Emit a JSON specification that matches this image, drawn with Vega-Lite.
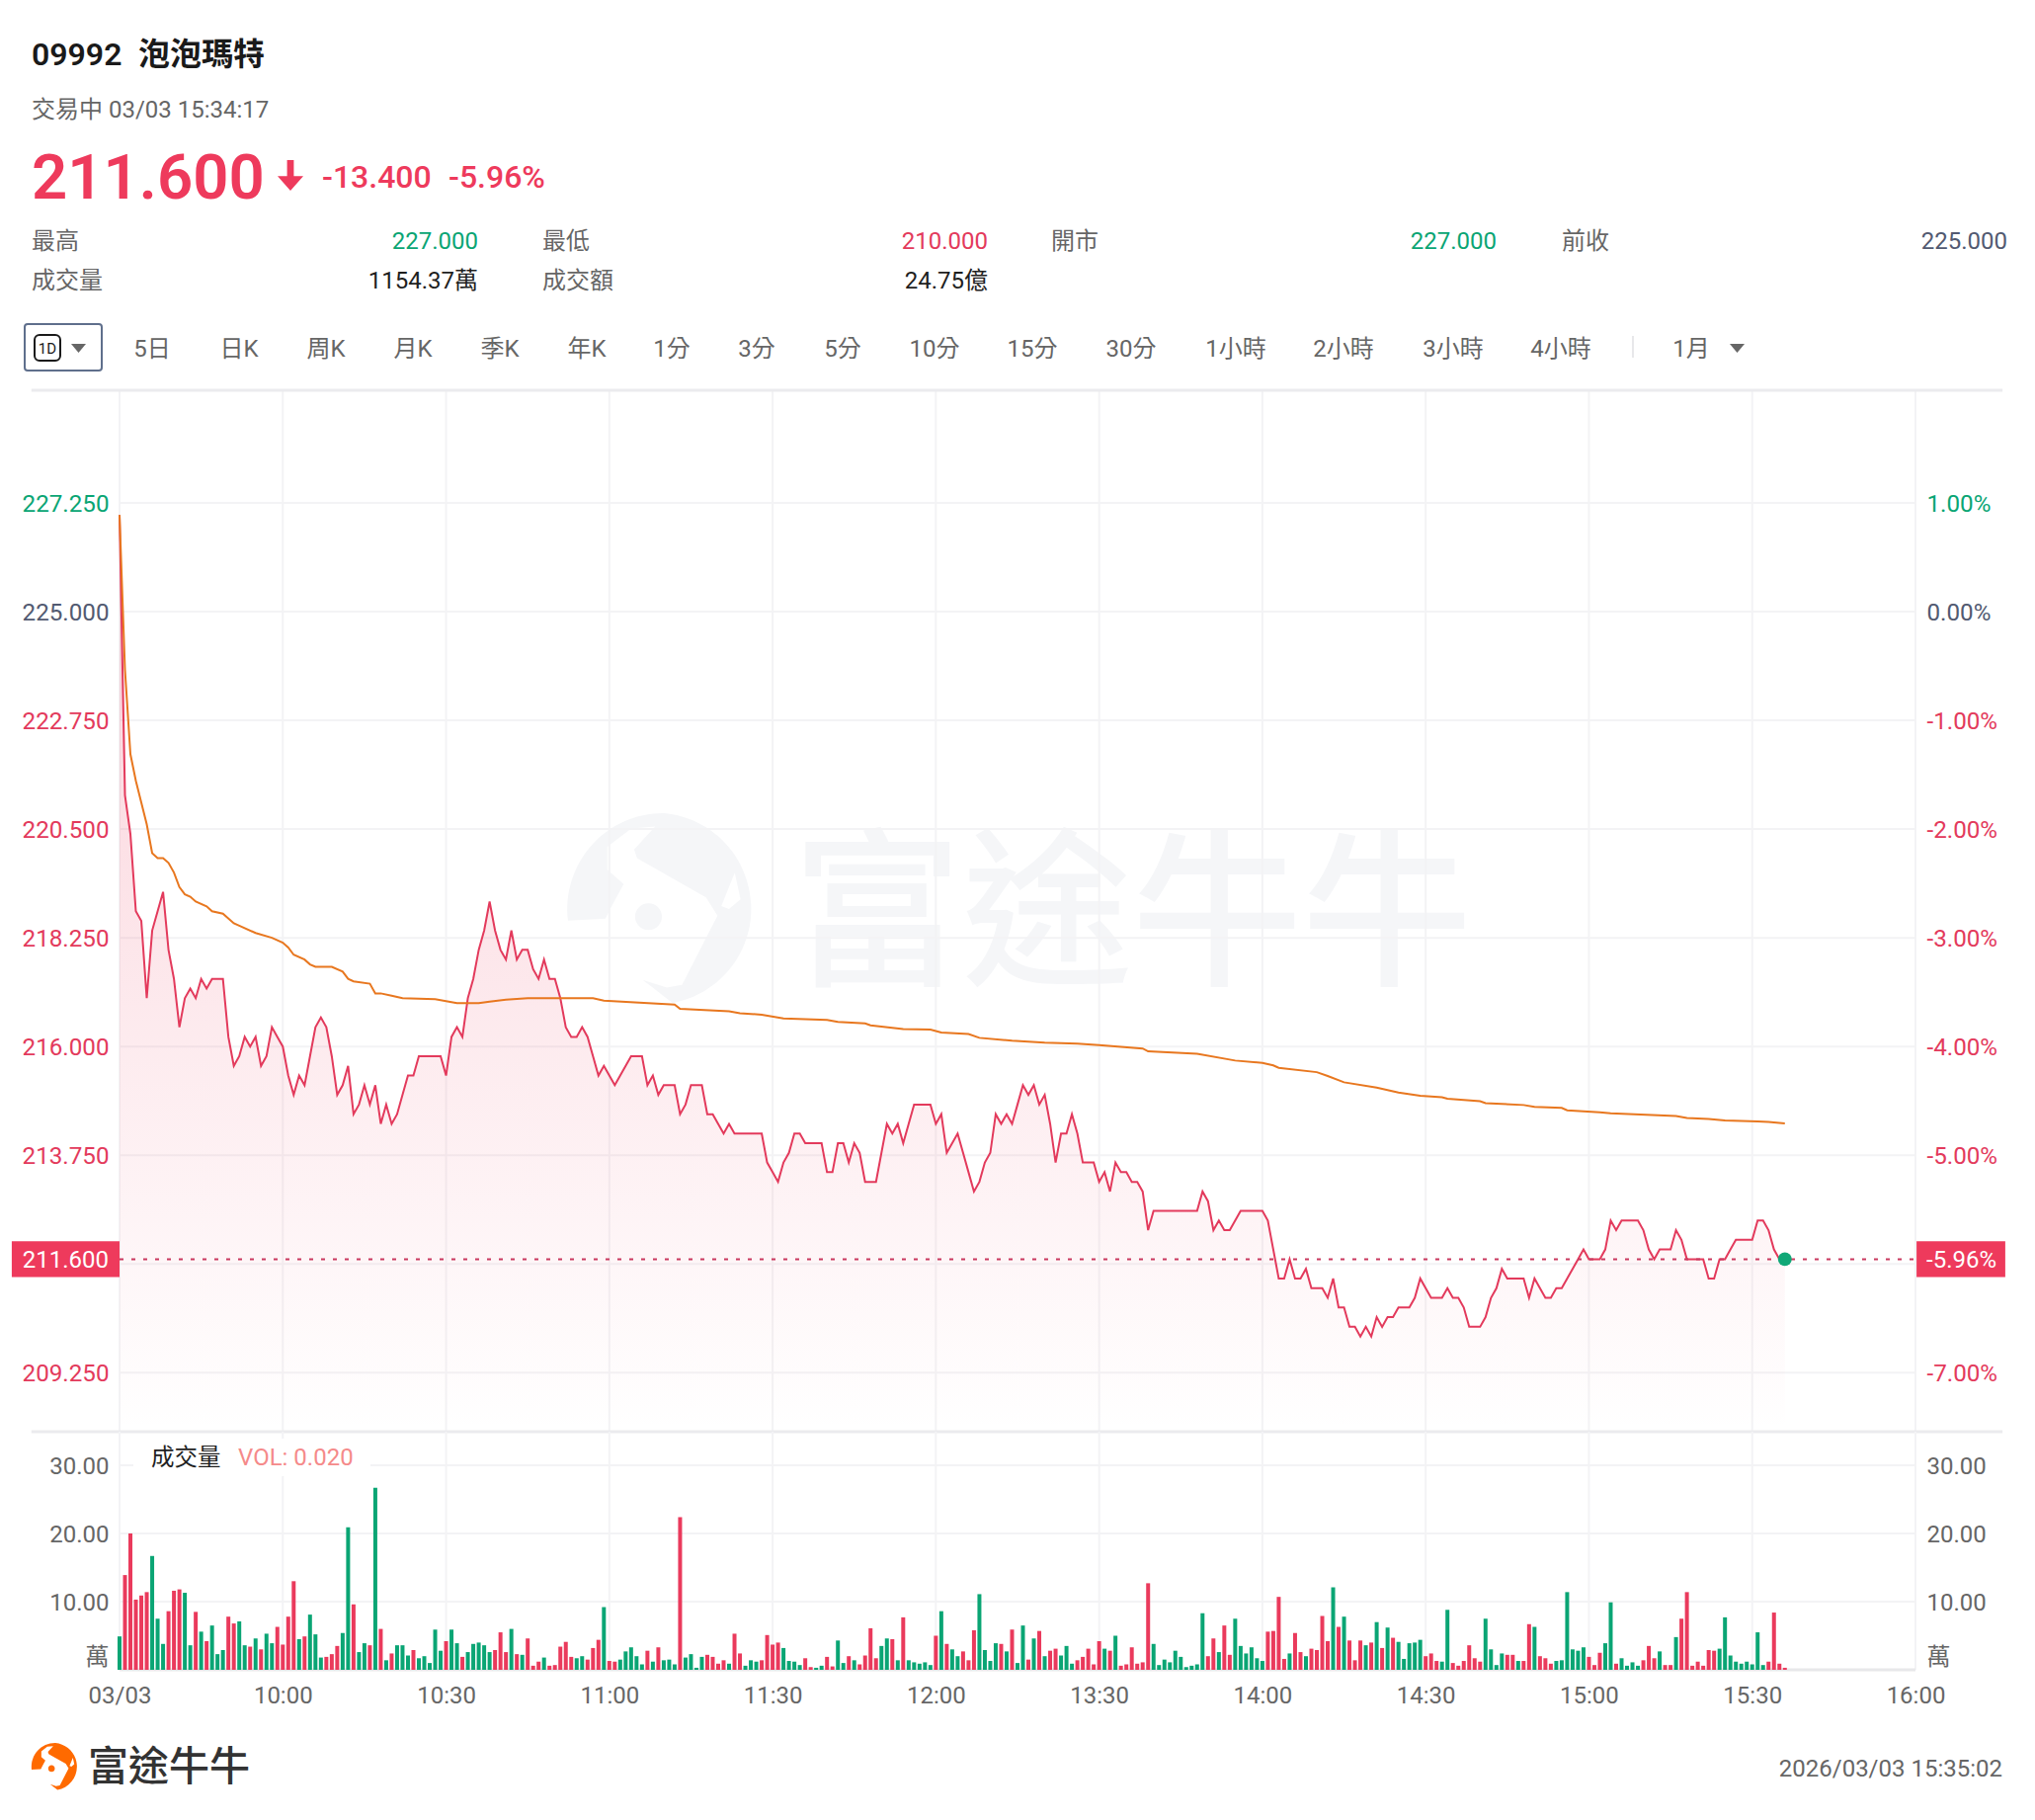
{"$schema":"https://vega.github.io/schema/vega-lite/v6.json","width":2060,"height":1842,"padding":0,"autosize":{"type":"fit","contains":"padding"},"background":"#ffffff",
"datasets":{
"m":[{"i":0,"p":227,"v":4.9,"d":"g"},{"i":1,"p":221.2,"v":13.9,"d":"r"},{"i":2,"p":220.4,"v":20,"d":"r"},{"i":3,"p":218.8,"v":10.3,"d":"r"},{"i":4,"p":218.6,"v":10.9,"d":"r"},{"i":5,"p":217,"v":11.4,"d":"r"},{"i":6,"p":218.4,"v":16.7,"d":"g"},{"i":7,"p":218.8,"v":7.5,"d":"g"},{"i":8,"p":219.2,"v":3.8,"d":"g"},{"i":9,"p":218,"v":8.6,"d":"r"},
{"i":10,"p":217.4,"v":11.6,"d":"r"},{"i":11,"p":216.4,"v":11.8,"d":"r"},{"i":12,"p":217,"v":11.3,"d":"g"},{"i":13,"p":217.2,"v":3.6,"d":"g"},{"i":14,"p":217,"v":8.5,"d":"r"},{"i":15,"p":217.4,"v":5.6,"d":"g"},{"i":16,"p":217.2,"v":4.2,"d":"r"},{"i":17,"p":217.4,"v":6.5,"d":"g"},{"i":18,"p":217.4,"v":2.3,"d":"g"},{"i":19,"p":217.4,"v":2.9,"d":"g"},
{"i":20,"p":216.2,"v":7.8,"d":"r"},{"i":21,"p":215.6,"v":6.8,"d":"r"},{"i":22,"p":215.8,"v":7.1,"d":"g"},{"i":23,"p":216.2,"v":3.6,"d":"g"},{"i":24,"p":216,"v":3.4,"d":"r"},{"i":25,"p":216.2,"v":4.6,"d":"g"},{"i":26,"p":215.6,"v":3,"d":"r"},{"i":27,"p":215.8,"v":5.3,"d":"g"},{"i":28,"p":216.4,"v":3.9,"d":"g"},{"i":29,"p":216.2,"v":6.3,"d":"r"},
{"i":30,"p":216,"v":3.7,"d":"r"},{"i":31,"p":215.4,"v":7.8,"d":"r"},{"i":32,"p":215,"v":13,"d":"r"},{"i":33,"p":215.4,"v":4.5,"d":"g"},{"i":34,"p":215.2,"v":4.9,"d":"r"},{"i":35,"p":215.8,"v":8.1,"d":"g"},{"i":36,"p":216.4,"v":5.2,"d":"g"},{"i":37,"p":216.6,"v":1.8,"d":"g"},{"i":38,"p":216.4,"v":1.9,"d":"r"},{"i":39,"p":215.8,"v":2.3,"d":"r"},
{"i":40,"p":215,"v":3.5,"d":"r"},{"i":41,"p":215.2,"v":5.4,"d":"g"},{"i":42,"p":215.6,"v":20.9,"d":"g"},{"i":43,"p":214.6,"v":9.6,"d":"r"},{"i":44,"p":214.8,"v":2.6,"d":"g"},{"i":45,"p":215.2,"v":3.9,"d":"g"},{"i":46,"p":214.8,"v":3.6,"d":"r"},{"i":47,"p":215.2,"v":26.7,"d":"g"},{"i":48,"p":214.4,"v":6,"d":"r"},{"i":49,"p":214.8,"v":1.4,"d":"g"},
{"i":50,"p":214.4,"v":2.4,"d":"r"},{"i":51,"p":214.6,"v":3.6,"d":"g"},{"i":52,"p":215,"v":3.6,"d":"g"},{"i":53,"p":215.4,"v":2.1,"d":"g"},{"i":54,"p":215.4,"v":2.9,"d":"r"},{"i":55,"p":215.8,"v":1.7,"d":"g"},{"i":56,"p":215.8,"v":2,"d":"g"},{"i":57,"p":215.8,"v":1,"d":"g"},{"i":58,"p":215.8,"v":5.9,"d":"g"},{"i":59,"p":215.8,"v":2.8,"d":"g"},
{"i":60,"p":215.4,"v":4.2,"d":"r"},{"i":61,"p":216.2,"v":5.9,"d":"g"},{"i":62,"p":216.4,"v":3.9,"d":"g"},{"i":63,"p":216.2,"v":1.9,"d":"r"},{"i":64,"p":217,"v":2.6,"d":"g"},{"i":65,"p":217.4,"v":3.8,"d":"g"},{"i":66,"p":218,"v":4,"d":"g"},{"i":67,"p":218.4,"v":3.6,"d":"g"},{"i":68,"p":219,"v":2.6,"d":"g"},{"i":69,"p":218.4,"v":2.9,"d":"r"},
{"i":70,"p":218,"v":5.5,"d":"r"},{"i":71,"p":217.8,"v":2.6,"d":"r"},{"i":72,"p":218.4,"v":6,"d":"g"},{"i":73,"p":217.8,"v":2.3,"d":"r"},{"i":74,"p":218,"v":2.2,"d":"g"},{"i":75,"p":218,"v":4.6,"d":"r"},{"i":76,"p":217.6,"v":0.6,"d":"r"},{"i":77,"p":217.4,"v":1.2,"d":"r"},{"i":78,"p":217.8,"v":1.8,"d":"g"},{"i":79,"p":217.4,"v":0.6,"d":"r"},
{"i":80,"p":217.4,"v":0.7,"d":"r"},{"i":81,"p":217,"v":3.4,"d":"r"},{"i":82,"p":216.4,"v":4.1,"d":"r"},{"i":83,"p":216.2,"v":1.9,"d":"r"},{"i":84,"p":216.2,"v":1.7,"d":"g"},{"i":85,"p":216.4,"v":2,"d":"g"},{"i":86,"p":216.2,"v":1.5,"d":"r"},{"i":87,"p":215.8,"v":3.2,"d":"r"},{"i":88,"p":215.4,"v":4.4,"d":"r"},{"i":89,"p":215.6,"v":9.2,"d":"g"},
{"i":90,"p":215.4,"v":1.3,"d":"r"},{"i":91,"p":215.2,"v":1.2,"d":"r"},{"i":92,"p":215.4,"v":1.5,"d":"g"},{"i":93,"p":215.6,"v":2.7,"d":"g"},{"i":94,"p":215.8,"v":3.3,"d":"g"},{"i":95,"p":215.8,"v":2,"d":"g"},{"i":96,"p":215.8,"v":0.8,"d":"g"},{"i":97,"p":215.2,"v":2.8,"d":"r"},{"i":98,"p":215.4,"v":1.2,"d":"g"},{"i":99,"p":215,"v":3.3,"d":"r"},
{"i":100,"p":215.2,"v":1.4,"d":"g"},{"i":101,"p":215.2,"v":1.5,"d":"g"},{"i":102,"p":215.2,"v":0.8,"d":"g"},{"i":103,"p":214.6,"v":22.4,"d":"r"},{"i":104,"p":214.8,"v":1.8,"d":"g"},{"i":105,"p":215.2,"v":2.3,"d":"g"},{"i":106,"p":215.2,"v":0.3,"d":"g"},{"i":107,"p":215.2,"v":1.9,"d":"g"},{"i":108,"p":214.6,"v":2.2,"d":"r"},{"i":109,"p":214.6,"v":1.9,"d":"r"},
{"i":110,"p":214.4,"v":0.9,"d":"r"},{"i":111,"p":214.2,"v":1.4,"d":"r"},{"i":112,"p":214.4,"v":0.9,"d":"g"},{"i":113,"p":214.2,"v":5.3,"d":"r"},{"i":114,"p":214.2,"v":2.4,"d":"r"},{"i":115,"p":214.2,"v":0.6,"d":"g"},{"i":116,"p":214.2,"v":1.4,"d":"g"},{"i":117,"p":214.2,"v":1.2,"d":"g"},{"i":118,"p":214.2,"v":1.4,"d":"r"},{"i":119,"p":213.6,"v":5.1,"d":"r"},
{"i":120,"p":213.4,"v":3.7,"d":"r"},{"i":121,"p":213.2,"v":4,"d":"r"},{"i":122,"p":213.6,"v":3.2,"d":"g"},{"i":123,"p":213.8,"v":1.3,"d":"g"},{"i":124,"p":214.2,"v":1.2,"d":"g"},{"i":125,"p":214.2,"v":0.7,"d":"g"},{"i":126,"p":214,"v":1.7,"d":"r"},{"i":127,"p":214,"v":0.4,"d":"r"},{"i":128,"p":214,"v":0.3,"d":"g"},{"i":129,"p":214,"v":0.6,"d":"g"},
{"i":130,"p":213.4,"v":1.9,"d":"r"},{"i":131,"p":213.4,"v":0.5,"d":"r"},{"i":132,"p":214,"v":4.3,"d":"g"},{"i":133,"p":214,"v":1,"d":"g"},{"i":134,"p":213.6,"v":2,"d":"r"},{"i":135,"p":214,"v":1.4,"d":"g"},{"i":136,"p":213.8,"v":0.8,"d":"r"},{"i":137,"p":213.2,"v":2.1,"d":"r"},{"i":138,"p":213.2,"v":6.1,"d":"r"},{"i":139,"p":213.2,"v":1.7,"d":"r"},
{"i":140,"p":213.8,"v":3.5,"d":"g"},{"i":141,"p":214.4,"v":4.6,"d":"g"},{"i":142,"p":214.2,"v":4.5,"d":"r"},{"i":143,"p":214.4,"v":1.4,"d":"g"},{"i":144,"p":214,"v":7.7,"d":"r"},{"i":145,"p":214.4,"v":1.4,"d":"g"},{"i":146,"p":214.8,"v":1.1,"d":"g"},{"i":147,"p":214.8,"v":0.9,"d":"g"},{"i":148,"p":214.8,"v":1.1,"d":"g"},{"i":149,"p":214.8,"v":0.7,"d":"g"},
{"i":150,"p":214.4,"v":5,"d":"r"},{"i":151,"p":214.6,"v":8.6,"d":"g"},{"i":152,"p":213.8,"v":3.8,"d":"r"},{"i":153,"p":214,"v":3,"d":"g"},{"i":154,"p":214.2,"v":2,"d":"g"},{"i":155,"p":213.8,"v":2.7,"d":"r"},{"i":156,"p":213.4,"v":1.4,"d":"r"},{"i":157,"p":213,"v":5.8,"d":"r"},{"i":158,"p":213.2,"v":11.1,"d":"g"},{"i":159,"p":213.6,"v":2.9,"d":"g"},
{"i":160,"p":213.8,"v":1.3,"d":"g"},{"i":161,"p":214.6,"v":3.9,"d":"g"},{"i":162,"p":214.4,"v":3.8,"d":"r"},{"i":163,"p":214.6,"v":2.7,"d":"g"},{"i":164,"p":214.4,"v":5.9,"d":"r"},{"i":165,"p":214.8,"v":1,"d":"g"},{"i":166,"p":215.2,"v":6.5,"d":"g"},{"i":167,"p":215,"v":1.5,"d":"r"},{"i":168,"p":215.2,"v":4.6,"d":"g"},{"i":169,"p":214.8,"v":5.7,"d":"r"},
{"i":170,"p":215,"v":2,"d":"g"},{"i":171,"p":214.4,"v":2.8,"d":"r"},{"i":172,"p":213.6,"v":3.1,"d":"r"},{"i":173,"p":214.2,"v":2.1,"d":"g"},{"i":174,"p":214.2,"v":3.5,"d":"g"},{"i":175,"p":214.6,"v":0.9,"d":"g"},{"i":176,"p":214.2,"v":1.4,"d":"r"},{"i":177,"p":213.6,"v":1.9,"d":"r"},{"i":178,"p":213.6,"v":3.1,"d":"r"},{"i":179,"p":213.6,"v":0.8,"d":"r"},
{"i":180,"p":213.2,"v":4.2,"d":"r"},{"i":181,"p":213.4,"v":3.1,"d":"g"},{"i":182,"p":213,"v":2.8,"d":"r"},{"i":183,"p":213.6,"v":5,"d":"g"},{"i":184,"p":213.4,"v":0.6,"d":"r"},{"i":185,"p":213.4,"v":0.8,"d":"r"},{"i":186,"p":213.2,"v":3.3,"d":"r"},{"i":187,"p":213.2,"v":0.9,"d":"r"},{"i":188,"p":213,"v":1.1,"d":"r"},{"i":189,"p":212.2,"v":12.7,"d":"r"},
{"i":190,"p":212.6,"v":3.8,"d":"g"},{"i":191,"p":212.6,"v":0.7,"d":"g"},{"i":192,"p":212.6,"v":1.5,"d":"g"},{"i":193,"p":212.6,"v":1.1,"d":"g"},{"i":194,"p":212.6,"v":2.8,"d":"g"},{"i":195,"p":212.6,"v":1.9,"d":"g"},{"i":196,"p":212.6,"v":0.4,"d":"g"},{"i":197,"p":212.6,"v":0.6,"d":"g"},{"i":198,"p":212.6,"v":0.8,"d":"g"},{"i":199,"p":213,"v":8.3,"d":"g"},
{"i":200,"p":212.8,"v":2,"d":"r"},{"i":201,"p":212.2,"v":4.6,"d":"r"},{"i":202,"p":212.4,"v":2.6,"d":"g"},{"i":203,"p":212.2,"v":6.5,"d":"r"},{"i":204,"p":212.2,"v":2.2,"d":"r"},{"i":205,"p":212.4,"v":7.5,"d":"g"},{"i":206,"p":212.6,"v":3.5,"d":"g"},{"i":207,"p":212.6,"v":2.4,"d":"g"},{"i":208,"p":212.6,"v":3.3,"d":"g"},{"i":209,"p":212.6,"v":1.7,"d":"g"},
{"i":210,"p":212.6,"v":1.3,"d":"g"},{"i":211,"p":212.4,"v":5.6,"d":"r"},{"i":212,"p":211.8,"v":5.7,"d":"r"},{"i":213,"p":211.2,"v":10.7,"d":"r"},{"i":214,"p":211.2,"v":1.6,"d":"r"},{"i":215,"p":211.6,"v":2.4,"d":"g"},{"i":216,"p":211.2,"v":5.4,"d":"r"},{"i":217,"p":211.2,"v":2.6,"d":"r"},{"i":218,"p":211.4,"v":2,"d":"g"},{"i":219,"p":211,"v":3.1,"d":"r"},
{"i":220,"p":211,"v":2.9,"d":"r"},{"i":221,"p":211,"v":7.9,"d":"r"},{"i":222,"p":210.8,"v":4.2,"d":"r"},{"i":223,"p":211.2,"v":12.1,"d":"g"},{"i":224,"p":210.6,"v":6.3,"d":"r"},{"i":225,"p":210.6,"v":7.8,"d":"g"},{"i":226,"p":210.2,"v":4.3,"d":"r"},{"i":227,"p":210.2,"v":1.4,"d":"r"},{"i":228,"p":210,"v":4.3,"d":"r"},{"i":229,"p":210.2,"v":3.6,"d":"g"},
{"i":230,"p":210,"v":4,"d":"r"},{"i":231,"p":210.4,"v":7,"d":"g"},{"i":232,"p":210.2,"v":3.2,"d":"r"},{"i":233,"p":210.4,"v":6.2,"d":"g"},{"i":234,"p":210.4,"v":4.7,"d":"r"},{"i":235,"p":210.6,"v":4.1,"d":"g"},{"i":236,"p":210.6,"v":1.6,"d":"g"},{"i":237,"p":210.6,"v":3.9,"d":"g"},{"i":238,"p":210.8,"v":4,"d":"g"},{"i":239,"p":211.2,"v":4.4,"d":"g"},
{"i":240,"p":211,"v":2,"d":"r"},{"i":241,"p":210.8,"v":2.4,"d":"r"},{"i":242,"p":210.8,"v":1.3,"d":"r"},{"i":243,"p":210.8,"v":1.2,"d":"g"},{"i":244,"p":211,"v":8.8,"d":"g"},{"i":245,"p":210.8,"v":1,"d":"r"},{"i":246,"p":210.8,"v":0.6,"d":"r"},{"i":247,"p":210.6,"v":1.3,"d":"r"},{"i":248,"p":210.2,"v":3.6,"d":"r"},{"i":249,"p":210.2,"v":1.7,"d":"r"},
{"i":250,"p":210.2,"v":1.2,"d":"r"},{"i":251,"p":210.4,"v":7.5,"d":"g"},{"i":252,"p":210.8,"v":3,"d":"g"},{"i":253,"p":211,"v":0.7,"d":"g"},{"i":254,"p":211.4,"v":2.4,"d":"g"},{"i":255,"p":211.2,"v":2.2,"d":"r"},{"i":256,"p":211.2,"v":2.2,"d":"r"},{"i":257,"p":211.2,"v":1.3,"d":"g"},{"i":258,"p":211.2,"v":1.3,"d":"r"},{"i":259,"p":210.8,"v":6.7,"d":"r"},
{"i":260,"p":211.2,"v":6.3,"d":"g"},{"i":261,"p":211,"v":2,"d":"r"},{"i":262,"p":210.8,"v":1.7,"d":"r"},{"i":263,"p":210.8,"v":0.9,"d":"r"},{"i":264,"p":211,"v":1.3,"d":"g"},{"i":265,"p":211,"v":1.4,"d":"g"},{"i":266,"p":211.2,"v":11.4,"d":"g"},{"i":267,"p":211.4,"v":3,"d":"g"},{"i":268,"p":211.6,"v":2.8,"d":"g"},{"i":269,"p":211.8,"v":3.3,"d":"g"},
{"i":270,"p":211.6,"v":1.9,"d":"r"},{"i":271,"p":211.6,"v":0.7,"d":"r"},{"i":272,"p":211.6,"v":2.5,"d":"r"},{"i":273,"p":211.8,"v":3.9,"d":"g"},{"i":274,"p":212.4,"v":9.9,"d":"g"},{"i":275,"p":212.2,"v":0.9,"d":"r"},{"i":276,"p":212.4,"v":1.7,"d":"g"},{"i":277,"p":212.4,"v":0.6,"d":"g"},{"i":278,"p":212.4,"v":1.1,"d":"g"},{"i":279,"p":212.4,"v":0.6,"d":"g"},
{"i":280,"p":212.2,"v":1.4,"d":"r"},{"i":281,"p":211.8,"v":3.5,"d":"r"},{"i":282,"p":211.6,"v":1.7,"d":"r"},{"i":283,"p":211.8,"v":2.7,"d":"g"},{"i":284,"p":211.8,"v":0.7,"d":"r"},{"i":285,"p":211.8,"v":0.7,"d":"r"},{"i":286,"p":212.2,"v":4.8,"d":"g"},{"i":287,"p":212,"v":7.5,"d":"r"},{"i":288,"p":211.6,"v":11.4,"d":"r"},{"i":289,"p":211.6,"v":0.6,"d":"r"},
{"i":290,"p":211.6,"v":1.2,"d":"r"},{"i":291,"p":211.6,"v":0.6,"d":"r"},{"i":292,"p":211.2,"v":2.9,"d":"r"},{"i":293,"p":211.2,"v":2.8,"d":"r"},{"i":294,"p":211.6,"v":3.1,"d":"g"},{"i":295,"p":211.6,"v":7.7,"d":"g"},{"i":296,"p":211.8,"v":2.1,"d":"g"},{"i":297,"p":212,"v":1.2,"d":"g"},{"i":298,"p":212,"v":0.9,"d":"g"},{"i":299,"p":212,"v":1.2,"d":"g"},
{"i":300,"p":212,"v":0.8,"d":"g"},{"i":301,"p":212.4,"v":5.5,"d":"g"},{"i":302,"p":212.4,"v":0.7,"d":"g"},{"i":303,"p":212.2,"v":1.2,"d":"r"},{"i":304,"p":211.8,"v":8.4,"d":"r"},{"i":305,"p":211.6,"v":0.9,"d":"r"},{"i":306,"p":211.6,"v":0.3,"d":"r"}],
"avg":[{"i":0,"a":227},{"i":1,"a":223.8},{"i":2,"a":222.05},{"i":3,"a":221.5},{"i":4,"a":221.05},{"i":5,"a":220.6},{"i":6,"a":220},{"i":7,"a":219.9},{"i":8,"a":219.9},{"i":9,"a":219.8},{"i":10,"a":219.6},{"i":11,"a":219.3},{"i":12,"a":219.15},{"i":13,"a":219.1},{"i":14,"a":219},{"i":16,"a":218.9},{"i":17,"a":218.8},{"i":19,"a":218.75},{"i":21,"a":218.55},{"i":22,"a":218.5},{"i":25,"a":218.35},{"i":28,"a":218.25},{"i":30,"a":218.15},{"i":31,"a":218.05},{"i":32,"a":217.9},{"i":34,"a":217.8},{"i":35,"a":217.7},{"i":36,"a":217.65},{"i":39,"a":217.65},{"i":41,"a":217.55},{"i":42,"a":217.4},{"i":43,"a":217.35},{"i":46,"a":217.3},{"i":47,"a":217.1},{"i":48,"a":217.1},{"i":50,"a":217.05},{"i":52,"a":217},{"i":58,"a":216.98},{"i":62,"a":216.9},{"i":66,"a":216.9},{"i":68,"a":216.93},{"i":71,"a":216.97},{"i":75,"a":217},{"i":87,"a":217},{"i":89,"a":216.95},{"i":102,"a":216.87},{"i":103,"a":216.78},{"i":112,"a":216.73},{"i":114,"a":216.69},{"i":118,"a":216.66},{"i":122,"a":216.58},{"i":130,"a":216.55},{"i":132,"a":216.51},{"i":137,"a":216.48},{"i":138,"a":216.44},{"i":144,"a":216.36},{"i":149,"a":216.35},{"i":151,"a":216.29},{"i":156,"a":216.26},{"i":158,"a":216.18},{"i":164,"a":216.12},{"i":170,"a":216.08},{"i":176,"a":216.06},{"i":180,"a":216.03},{"i":188,"a":215.96},{"i":189,"a":215.9},{"i":198,"a":215.85},{"i":205,"a":215.71},{"i":210,"a":215.66},{"i":212,"a":215.61},{"i":213,"a":215.56},{"i":220,"a":215.47},{"i":222,"a":215.39},{"i":225,"a":215.26},{"i":231,"a":215.15},{"i":235,"a":215.05},{"i":239,"a":214.98},{"i":243,"a":214.95},{"i":244,"a":214.92},{"i":250,"a":214.87},{"i":251,"a":214.83},{"i":258,"a":214.79},{"i":260,"a":214.75},{"i":265,"a":214.73},{"i":266,"a":214.68},{"i":272,"a":214.64},{"i":274,"a":214.62},{"i":286,"a":214.56},{"i":288,"a":214.52},{"i":292,"a":214.5},{"i":295,"a":214.47},{"i":301,"a":214.45},{"i":303,"a":214.44},{"i":306,"a":214.41}],
"xt":[{"i":0},{"i":30},{"i":60},{"i":90},{"i":120},{"i":150},{"i":180},{"i":210},{"i":240},{"i":270},{"i":300},{"i":330}],
"yp":[{"p":227.25},{"p":225},{"p":222.75},{"p":220.5},{"p":218.25},{"p":216},{"p":213.75},{"p":211.5},{"p":209.25}],
"yv":[{"v":10},{"v":20},{"v":30}],
"last":[{"i":306,"p":211.6,"left":"211.600","right":"-5.96%"}]
},
"resolve":{"scale":{"x":"independent","y":"independent"},"axis":{"x":"independent","y":"independent"}},
"config":{"view":{"stroke":null},"text":{"font":"Roboto, Noto Sans CJK TC"}},
"layer":[
{"data":{"values":[{}]},"layer":[
{"mark":{"type":"point","filled":true,"stroke":null,"opacity":1,"x":672,"y":920,"size":37636,"color":"#f5f6f8","shape":"M0,-1 A1,1 0 0 1 0.09,0.98 L-0.22,0.74 L0.03,0.82 L0.19,0.79 L0.56,0.07 L0.44,-0.12 L-0.28,-0.53 L-0.31,-0.62 L-0.09,-0.86 L-0.34,-0.84 L-0.59,-0.65 L-0.59,-0.41 L-0.42,-0.26 L-0.56,0 L-0.61,0.1 L-1,0.12 A1,1 0 0 1 0,-1 Z M0.74,-0.38 L0.6,-0.03 L0.68,0 L0.8,-0.1 Z M-0.3,0.08 A0.14,0.14 0 1 0 -0.02,0.08 A0.14,0.14 0 1 0 -0.3,0.08 Z"}},
{"mark":{"type":"text","x":1146,"y":932,"text":"富途牛牛","font":"Noto Sans CJK TC","fontSize":172,"fontWeight":500,"color":"#f5f6f8","align":"center","baseline":"middle"}}
]},
{"layer":[
{"data":{"name":"xt"},"mark":{"type":"rule","stroke":"#f3f3f5","strokeWidth":2},"encoding":{"x":{"field":"i","type":"quantitative","axis":null,"scale":{"domain":[0,330],"range":[121,1939],"nice":false}},"y":{"datum":229.58,"type":"quantitative","axis":null,"scale":{"domain":[208.03,229.58],"range":[1449,395],"nice":false}},"y2":{"datum":208.03}}},
{"data":{"name":"yp"},"mark":{"type":"rule","stroke":"#f3f3f5","strokeWidth":2},"encoding":{"x":{"datum":0,"type":"quantitative","axis":null,"scale":{"domain":[0,330],"range":[121,1939],"nice":false}},"x2":{"datum":330},"y":{"field":"p","type":"quantitative","axis":null,"scale":{"domain":[208.03,229.58],"range":[1449,395],"nice":false}}}},
{"data":{"name":"m"},"mark":{"type":"area","interpolate":"linear","color":{"gradient":"linear","x1":0,"y1":0,"x2":0,"y2":1,"stops":[{"offset":0,"color":"rgba(236,58,92,0.24)"},{"offset":1,"color":"rgba(236,58,92,0)"}]}},"encoding":{"x":{"field":"i","type":"quantitative","axis":null,"scale":{"domain":[0,330],"range":[121,1939],"nice":false}},"y":{"field":"p","type":"quantitative","axis":null,"scale":{"domain":[208.03,229.58],"range":[1449,395],"nice":false}},"y2":{"datum":208.03}}},
{"data":{"values":[{"a":229.58},{"a":208.03}]},"mark":{"type":"rule","stroke":"#ebebee","strokeWidth":3},"encoding":{"x":{"datum":-16.2,"type":"quantitative","axis":null,"scale":{"domain":[0,330],"range":[121,1939],"nice":false}},"x2":{"datum":346},"y":{"field":"a","type":"quantitative","axis":null,"scale":{"domain":[208.03,229.58],"range":[1449,395],"nice":false}}}},
{"data":{"name":"m"},"mark":{"type":"line","color":"#e33a5c","strokeWidth":2,"interpolate":"linear"},"encoding":{"x":{"field":"i","type":"quantitative","axis":null,"scale":{"domain":[0,330],"range":[121,1939],"nice":false}},"y":{"field":"p","type":"quantitative","axis":null,"scale":{"domain":[208.03,229.58],"range":[1449,395],"nice":false}}}},
{"data":{"name":"avg"},"mark":{"type":"line","color":"#e8771f","strokeWidth":2,"interpolate":"linear"},"encoding":{"x":{"field":"i","type":"quantitative","axis":null,"scale":{"domain":[0,330],"range":[121,1939],"nice":false}},"y":{"field":"a","type":"quantitative","axis":null,"scale":{"domain":[208.03,229.58],"range":[1449,395],"nice":false}}}},
{"data":{"name":"last"},"mark":{"type":"rule","stroke":"#c9395f","strokeWidth":2,"strokeDash":[4,8]},"encoding":{"x":{"datum":0,"type":"quantitative","axis":null,"scale":{"domain":[0,330],"range":[121,1939],"nice":false}},"x2":{"datum":330},"y":{"field":"p","type":"quantitative","axis":null,"scale":{"domain":[208.03,229.58],"range":[1449,395],"nice":false}}}},
{"data":{"name":"last"},"mark":{"type":"rect","color":"#ee3a5c"},"encoding":{"x":{"datum":-19.8,"type":"quantitative","axis":null,"scale":{"domain":[0,330],"range":[121,1939],"nice":false}},"x2":{"datum":0},"y":{"datum":211.97,"type":"quantitative","axis":null,"scale":{"domain":[208.03,229.58],"range":[1449,395],"nice":false}},"y2":{"datum":211.23}}},
{"data":{"name":"last"},"mark":{"type":"rect","color":"#ee3a5c"},"encoding":{"x":{"datum":330.2,"type":"quantitative","axis":null,"scale":{"domain":[0,330],"range":[121,1939],"nice":false}},"x2":{"datum":346.5},"y":{"datum":211.97,"type":"quantitative","axis":null,"scale":{"domain":[208.03,229.58],"range":[1449,395],"nice":false}},"y2":{"datum":211.23}}},
{"data":{"name":"last"},"mark":{"type":"text","color":"#ffffff","fontSize":24,"dy":1.5,"align":"right","baseline":"middle"},"encoding":{"x":{"datum":-2,"type":"quantitative","axis":null,"scale":{"domain":[0,330],"range":[121,1939],"nice":false}},"y":{"field":"p","type":"quantitative","axis":null,"scale":{"domain":[208.03,229.58],"range":[1449,395],"nice":false}},"text":{"field":"left"}}},
{"data":{"name":"last"},"mark":{"type":"text","color":"#ffffff","fontSize":24,"dy":1.5,"align":"left","baseline":"middle"},"encoding":{"x":{"datum":332,"type":"quantitative","axis":null,"scale":{"domain":[0,330],"range":[121,1939],"nice":false}},"y":{"field":"p","type":"quantitative","axis":null,"scale":{"domain":[208.03,229.58],"range":[1449,395],"nice":false}},"text":{"field":"right"}}},
{"data":{"name":"last"},"mark":{"type":"point","filled":true,"opacity":1,"color":"#10a877","size":193},"encoding":{"x":{"field":"i","type":"quantitative","axis":null,"scale":{"domain":[0,330],"range":[121,1939],"nice":false}},"y":{"field":"p","type":"quantitative","axis":null,"scale":{"domain":[208.03,229.58],"range":[1449,395],"nice":false}}}}
]},
{"data":{"name":"yp"},"transform":[{"filter":"datum.p!=211.5"}],"mark":{"type":"rule","opacity":0},"encoding":{"y":{"field":"p","type":"quantitative","scale":{"domain":[208.03,229.58],"range":[1449,395],"nice":false},"axis":{"orient":"left","offset":-121,"title":null,"domain":false,"ticks":false,"grid":false,"values":[227.25,225,222.75,220.5,218.25,216,213.75,209.25],"format":".3f","labelPadding":11,"labelOffset":1.5,"labelFont":"Roboto","labelFontSize":24.2,"labelOverlap":false,"labelFlush":false,"labelColor":{"condition":[{"test":"datum.value>225.1","value":"#0aa574"},{"test":"datum.value>224.9","value":"#525a71"}],"value":"#e33a5c"}}}}},
{"data":{"name":"yp"},"transform":[{"filter":"datum.p!=211.5"}],"mark":{"type":"rule","opacity":0},"encoding":{"y":{"field":"p","type":"quantitative","scale":{"domain":[208.03,229.58],"range":[1449,395],"nice":false},"axis":{"orient":"right","offset":-121,"title":null,"domain":false,"ticks":false,"grid":false,"values":[227.25,225,222.75,220.5,218.25,216,213.75,209.25],"labelExpr":"(datum.value<224.9?'-':'')+format(abs((datum.value-225)/2.25),'.2f')+'%'","labelPadding":11,"labelOffset":1.5,"labelFont":"Roboto","labelFontSize":24.2,"labelOverlap":false,"labelFlush":false,"labelColor":{"condition":[{"test":"datum.value>225.1","value":"#0aa574"},{"test":"datum.value>224.9","value":"#525a71"}],"value":"#e33a5c"}}}}},
{"data":{"name":"xt"},"mark":{"type":"rule","opacity":0},"encoding":{"x":{"field":"i","type":"quantitative","scale":{"domain":[0,330],"range":[121,1939],"nice":false},"axis":{"orient":"bottom","offset":-152,"title":null,"domain":false,"ticks":false,"grid":false,"values":[0,30,60,90,120,150,180,210,240,270,300,330],"labelExpr":"['03/03','10:00','10:30','11:00','11:30','12:00','13:30','14:00','14:30','15:00','15:30','16:00'][round(datum.value/30)]","labelPadding":26,"labelBaseline":"middle","labelFont":"Roboto","labelFontSize":24,"labelColor":"#666666","labelOverlap":false,"labelFlush":false}}}},
{"layer":[
{"data":{"name":"xt"},"mark":{"type":"rule","stroke":"#f3f3f5","strokeWidth":2},"encoding":{"x":{"field":"i","type":"quantitative","axis":null,"scale":{"domain":[0,330],"range":[121,1939],"nice":false,"padding":0}},"y":{"datum":34.93,"type":"quantitative","axis":null,"scale":{"domain":[0,34.93],"range":[1690,1449],"nice":false}},"y2":{"datum":0}}},
{"data":{"name":"yv"},"mark":{"type":"rule","stroke":"#f3f3f5","strokeWidth":2},"encoding":{"x":{"datum":0,"type":"quantitative","axis":null,"scale":{"domain":[0,330],"range":[121,1939],"nice":false,"padding":0}},"x2":{"datum":330},"y":{"field":"v","type":"quantitative","axis":null,"scale":{"domain":[0,34.93],"range":[1690,1449],"nice":false}}}},
{"data":{"values":[{"v":0}]},"mark":{"type":"rule","stroke":"#e8e8ea","strokeWidth":3},"encoding":{"x":{"datum":0,"type":"quantitative","axis":null,"scale":{"domain":[0,330],"range":[121,1939],"nice":false,"padding":0}},"x2":{"datum":330},"y":{"field":"v","type":"quantitative","axis":null,"scale":{"domain":[0,34.93],"range":[1690,1449],"nice":false}}}},
{"data":{"name":"m"},"mark":{"type":"bar","size":4,"orient":"vertical"},"encoding":{"x":{"field":"i","type":"quantitative","axis":null,"scale":{"domain":[0,330],"range":[121,1939],"nice":false,"padding":0}},"y":{"field":"v","type":"quantitative","axis":null,"scale":{"domain":[0,34.93],"range":[1690,1449],"nice":false}},"y2":{"datum":0},"color":{"field":"d","type":"nominal","legend":null,"scale":{"domain":["r","g"],"range":["#ea3a5c","#0aa574"]}}}}
]},
{"data":{"name":"yv"},"mark":{"type":"rule","opacity":0},"encoding":{"y":{"field":"v","type":"quantitative","scale":{"domain":[0,34.93],"range":[1690,1449],"nice":false},"axis":{"orient":"left","offset":-121,"title":null,"domain":false,"ticks":false,"grid":false,"values":[2,10,20,30],"labelExpr":"datum.value==2?'萬':format(datum.value,'.2f')","labelPadding":11,"labelOffset":1.5,"labelFont":"Roboto, Noto Sans CJK TC","labelFontSize":24,"labelColor":"#666666","labelOverlap":false,"labelFlush":false}}}},
{"data":{"name":"yv"},"mark":{"type":"rule","opacity":0},"encoding":{"y":{"field":"v","type":"quantitative","scale":{"domain":[0,34.93],"range":[1690,1449],"nice":false},"axis":{"orient":"right","offset":-121,"title":null,"domain":false,"ticks":false,"grid":false,"values":[2,10,20,30],"labelExpr":"datum.value==2?'萬':format(datum.value,'.2f')","labelPadding":11,"labelOffset":1.5,"labelFont":"Roboto, Noto Sans CJK TC","labelFontSize":24,"labelColor":"#666666","labelOverlap":false,"labelFlush":false}}}},
{"data":{"values":[{}]},"layer":[
{"mark":{"type":"rect","x":135,"x2":375,"y":1456,"y2":1494,"color":"#ffffff"}},
{"mark":{"type":"text","x":153,"y":1475.5,"text":"成交量","fontSize":23.5,"color":"#1f1f1f","align":"left","baseline":"middle"}},
{"mark":{"type":"text","x":241,"y":1475.5,"text":"VOL: 0.020","fontSize":24,"color":"#f58a8a","align":"left","baseline":"middle"}},
{"mark":{"type":"text","x":32,"y":66,"text":"09992","fontSize":32,"fontWeight":600,"color":"#1a1a1a","align":"left","baseline":"alphabetic"}},
{"mark":{"type":"text","x":140,"y":66,"text":"泡泡瑪特","fontSize":32,"fontWeight":600,"color":"#1a1a1a","align":"left","baseline":"alphabetic"}},
{"mark":{"type":"text","x":32,"y":112,"text":"交易中 03/03 15:34:17","fontSize":24,"color":"#666666","align":"left","baseline":"middle"}},
{"mark":{"type":"text","x":32,"y":201,"text":"211.600","fontSize":63.5,"fontWeight":600,"color":"#ee3a5c","align":"left","baseline":"alphabetic"}},
{"mark":{"type":"point","filled":true,"stroke":null,"opacity":1,"x":294,"y":177.5,"size":961,"color":"#ee3a5c","shape":"M-0.22,-1 L0.22,-1 L0.22,0.05 L0.84,0.05 L0,1 L-0.84,0.05 L-0.22,0.05 Z"}},
{"mark":{"type":"text","x":326,"y":190,"text":"-13.400","fontSize":32,"fontWeight":500,"color":"#ee3a5c","align":"left","baseline":"alphabetic"}},
{"mark":{"type":"text","x":454,"y":190,"text":"-5.96%","fontSize":32,"fontWeight":500,"color":"#ee3a5c","align":"left","baseline":"alphabetic"}},
{"mark":{"type":"text","x":32,"y":245,"text":"最高","fontSize":24,"color":"#666666","align":"left","baseline":"middle"}},
{"mark":{"type":"text","x":484,"y":245,"text":"227.000","fontSize":24,"color":"#0aa574","align":"right","baseline":"middle"}},
{"mark":{"type":"text","x":549,"y":245,"text":"最低","fontSize":24,"color":"#666666","align":"left","baseline":"middle"}},
{"mark":{"type":"text","x":1000,"y":245,"text":"210.000","fontSize":24,"color":"#e33a5c","align":"right","baseline":"middle"}},
{"mark":{"type":"text","x":1064,"y":245,"text":"開市","fontSize":24,"color":"#666666","align":"left","baseline":"middle"}},
{"mark":{"type":"text","x":1515,"y":245,"text":"227.000","fontSize":24,"color":"#0aa574","align":"right","baseline":"middle"}},
{"mark":{"type":"text","x":1581,"y":245,"text":"前收","fontSize":24,"color":"#666666","align":"left","baseline":"middle"}},
{"mark":{"type":"text","x":2032,"y":245,"text":"225.000","fontSize":24,"color":"#525a71","align":"right","baseline":"middle"}},
{"mark":{"type":"text","x":32,"y":285,"text":"成交量","fontSize":24,"color":"#666666","align":"left","baseline":"middle"}},
{"mark":{"type":"text","x":484,"y":285,"text":"1154.37萬","fontSize":24,"color":"#1f1f1f","align":"right","baseline":"middle"}},
{"mark":{"type":"text","x":549,"y":285,"text":"成交額","fontSize":24,"color":"#666666","align":"left","baseline":"middle"}},
{"mark":{"type":"text","x":1000,"y":285,"text":"24.75億","fontSize":24,"color":"#1f1f1f","align":"right","baseline":"middle"}},
{"mark":{"type":"rect","x":25,"x2":103,"y":328,"y2":375,"fill":"#ffffff","stroke":"#5f6f8c","strokeWidth":2,"cornerRadius":3}},
{"mark":{"type":"rect","x":35,"x2":61,"y":339,"y2":365,"fill":"#ffffff","stroke":"#1a1a1a","strokeWidth":2,"cornerRadius":5}},
{"mark":{"type":"text","x":48,"y":353,"text":"1D","fontSize":15,"color":"#1a1a1a","align":"center","baseline":"middle"}},
{"mark":{"type":"point","filled":true,"stroke":null,"opacity":1,"x":79.5,"y":352.5,"size":225,"color":"#666666","shape":"M-1,-0.6 L1,-0.6 L0,0.6 Z"}},
{"mark":{"type":"text","x":154,"y":354,"text":"5日","fontSize":24,"color":"#666666","align":"center","baseline":"middle"}},
{"mark":{"type":"text","x":242,"y":354,"text":"日K","fontSize":24,"color":"#666666","align":"center","baseline":"middle"}},
{"mark":{"type":"text","x":330,"y":354,"text":"周K","fontSize":24,"color":"#666666","align":"center","baseline":"middle"}},
{"mark":{"type":"text","x":418,"y":354,"text":"月K","fontSize":24,"color":"#666666","align":"center","baseline":"middle"}},
{"mark":{"type":"text","x":506,"y":354,"text":"季K","fontSize":24,"color":"#666666","align":"center","baseline":"middle"}},
{"mark":{"type":"text","x":594,"y":354,"text":"年K","fontSize":24,"color":"#666666","align":"center","baseline":"middle"}},
{"mark":{"type":"text","x":680,"y":354,"text":"1分","fontSize":24,"color":"#666666","align":"center","baseline":"middle"}},
{"mark":{"type":"text","x":766,"y":354,"text":"3分","fontSize":24,"color":"#666666","align":"center","baseline":"middle"}},
{"mark":{"type":"text","x":853,"y":354,"text":"5分","fontSize":24,"color":"#666666","align":"center","baseline":"middle"}},
{"mark":{"type":"text","x":946,"y":354,"text":"10分","fontSize":24,"color":"#666666","align":"center","baseline":"middle"}},
{"mark":{"type":"text","x":1045,"y":354,"text":"15分","fontSize":24,"color":"#666666","align":"center","baseline":"middle"}},
{"mark":{"type":"text","x":1145,"y":354,"text":"30分","fontSize":24,"color":"#666666","align":"center","baseline":"middle"}},
{"mark":{"type":"text","x":1251,"y":354,"text":"1小時","fontSize":24,"color":"#666666","align":"center","baseline":"middle"}},
{"mark":{"type":"text","x":1360,"y":354,"text":"2小時","fontSize":24,"color":"#666666","align":"center","baseline":"middle"}},
{"mark":{"type":"text","x":1471,"y":354,"text":"3小時","fontSize":24,"color":"#666666","align":"center","baseline":"middle"}},
{"mark":{"type":"text","x":1580,"y":354,"text":"4小時","fontSize":24,"color":"#666666","align":"center","baseline":"middle"}},
{"mark":{"type":"rect","x":1652,"x2":1654,"y":340,"y2":362,"color":"#e8e8ea"}},
{"mark":{"type":"text","x":1712,"y":354,"text":"1月","fontSize":24,"color":"#666666","align":"center","baseline":"middle"}},
{"mark":{"type":"point","filled":true,"stroke":null,"opacity":1,"x":1758.5,"y":352.5,"size":225,"color":"#666666","shape":"M-1,-0.6 L1,-0.6 L0,0.6 Z"}},
{"mark":{"type":"point","filled":true,"stroke":null,"opacity":1,"x":56,"y":1788,"size":2304,"color":"#ff6a00","shape":"M0,-1 A1,1 0 0 1 0.09,0.98 L-0.22,0.74 L0.03,0.82 L0.19,0.79 L0.56,0.07 L0.44,-0.12 L-0.28,-0.53 L-0.31,-0.62 L-0.09,-0.86 L-0.34,-0.84 L-0.59,-0.65 L-0.59,-0.41 L-0.42,-0.26 L-0.56,0 L-0.61,0.1 L-1,0.12 A1,1 0 0 1 0,-1 Z M0.74,-0.38 L0.6,-0.03 L0.68,0 L0.8,-0.1 Z M-0.3,0.08 A0.14,0.14 0 1 0 -0.02,0.08 A0.14,0.14 0 1 0 -0.3,0.08 Z"}},
{"mark":{"type":"text","x":89,"y":1790,"text":"富途牛牛","font":"Noto Sans CJK TC","fontSize":41,"fontWeight":500,"color":"#333333","align":"left","baseline":"middle"}},
{"mark":{"type":"text","x":2027,"y":1790.5,"text":"2026/03/03 15:35:02","fontSize":24,"color":"#666666","align":"right","baseline":"middle"}}
]}
]}
